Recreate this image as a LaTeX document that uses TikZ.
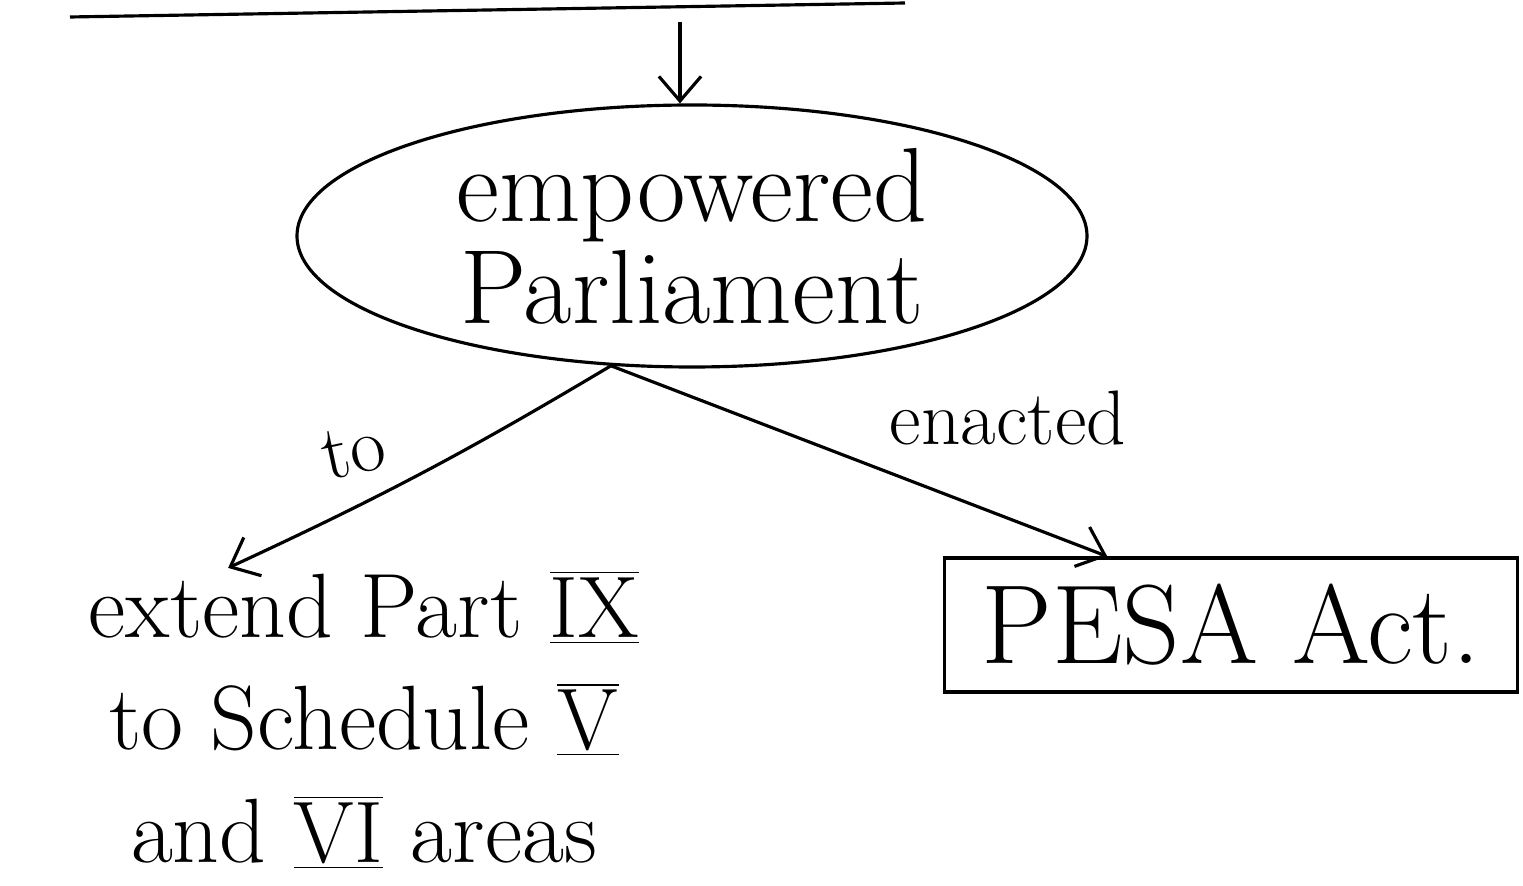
\documentclass[tikz,border=0pt]{standalone}
\usetikzlibrary{shapes.geometric,arrows.meta,positioning}

\begin{document}
\begin{tikzpicture}[
    oval/.style={ellipse, draw, line width=0.9pt, minimum width=7.9cm, minimum height=2.62cm, inner sep=0pt, align=center},
    box/.style={rectangle, draw, line width=0.9pt, minimum width=5.73cm, minimum height=1.34cm, inner sep=0pt},
    every node/.style={font=\fontsize{26}{32}\selectfont},
    >={Straight Barb[length=7pt,width=12pt]}
]
\useasboundingbox (0,0) rectangle (15.23,8.86);

% Top
\coordinate (l1) at (0.70,8.69);
\coordinate (l2) at (9.05,8.83);
\coordinate (top) at (6.80,8.64);

% Nodes
\node[oval, font=\fontsize{30}{29}\selectfont] (parl) at (6.92,6.50) {empowered\\Parliament};
\node[align=center, inner sep=0pt] (ext) at (3.64,1.66) {extend Part $\overline{\underline{\mathrm{IX}}}$\\to Schedule $\overline{\underline{\mathrm{V}}}$\\and $\overline{\underline{\mathrm{VI}}}$ areas};
\node[box, font=\fontsize{32}{38}\selectfont] (pesa) at (12.31,2.61) {PESA Act.};
\coordinate (fork) at (parl.238);

% Edges
\draw[line width=0.9pt] (l1) -- (l2);
\draw[->, line width=0.9pt] (top) -- (top |- parl.north);

\draw[->, line width=0.9pt] (fork) to[bend left=3]
    node[pos=0.55, above left=4pt, inner sep=1pt, rotate=12, font=\fontsize{22}{26}\selectfont] {to} ([xshift=1.4cm,yshift=0.02cm]ext.north west);
\draw[->, line width=0.9pt] (fork) --
    node[pos=0.8, above=0.6cm, font=\fontsize{22}{26}\selectfont] {enacted} (pesa.151);

\end{tikzpicture}
\end{document}
